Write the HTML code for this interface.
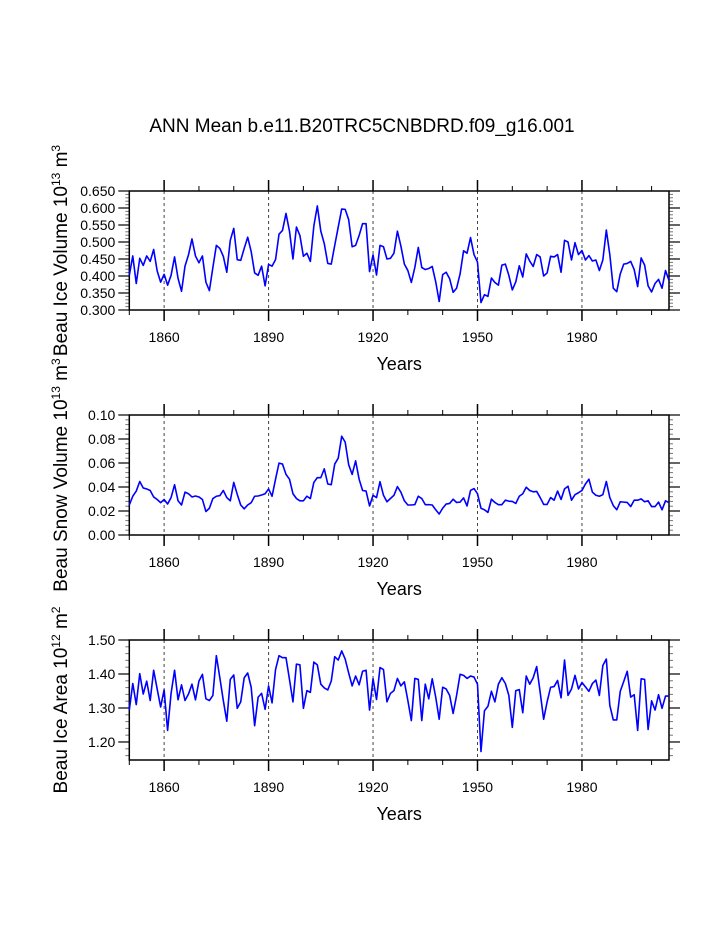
<!DOCTYPE html>
<html><head><meta charset="utf-8"><style>
html,body{margin:0;padding:0;background:#fff;}
svg{display:block;font-family:"Liberation Sans",Arial,sans-serif;}
</style></head><body>
<svg id="chart" width="723" height="935" viewBox="0 0 723 935" xmlns="http://www.w3.org/2000/svg">
<text x="362" y="132" text-anchor="middle" font-size="19" fill="#000">ANN Mean b.e11.B20TRC5CNBDRD.f09_g16.001</text>
</svg>
<script>
const years = []; for (let y = 1850; y <= 2005; y++) years.push(y);
const xTickLabels = ["1860","1890","1920","1950","1980"];
const xTickYears = [1860,1890,1920,1950,1980];
const iceVolume = [0.402,0.459,0.378,0.452,0.431,0.459,0.443,0.478,0.415,0.382,0.405,0.373,0.402,0.456,0.393,0.355,0.429,0.462,0.509,0.459,0.439,0.459,0.382,0.357,0.425,0.490,0.481,0.458,0.411,0.505,0.540,0.448,0.446,0.481,0.514,0.472,0.409,0.402,0.429,0.371,0.434,0.429,0.448,0.523,0.534,0.584,0.532,0.450,0.544,0.519,0.458,0.467,0.443,0.547,0.606,0.532,0.495,0.437,0.435,0.490,0.544,0.597,0.596,0.566,0.486,0.490,0.519,0.554,0.554,0.413,0.462,0.403,0.490,0.486,0.450,0.452,0.467,0.532,0.488,
0.435,
0.416,0.381,0.425,0.484,0.425,0.419,0.422,0.428,0.383,0.325,0.404,0.411,0.392,0.352,0.364,0.406,0.474,0.467,0.513,0.463,0.441,0.322,0.345,0.340,0.394,0.381,0.373,0.432,0.435,0.402,0.359,0.383,0.430,0.397,0.465,0.444,0.428,0.463,0.456,0.400,0.409,0.458,0.456,0.463,0.411,0.505,0.500,0.447,0.498,0.463,0.475,0.447,0.460,0.444,0.447,0.416,0.447,0.535,0.463,0.364,0.354,0.406,0.435,0.437,0.443,0.419,0.369,0.453,0.432,0.371,0.353,0.378,0.390,0.364,0.416,0.387];
const snowVolume = [0.0250,0.0323,0.0366,0.0446,0.0392,0.0384,0.0371,0.0317,0.0296,0.0269,0.0296,0.0258,0.0312,0.0419,0.0285,0.0250,0.0357,0.0344,0.0317,0.0325,0.0317,0.0296,0.0196,0.0223,0.0304,0.0323,0.0328,0.0371,0.0312,0.0285,0.0438,0.0339,0.0250,0.0218,0.0250,0.0269,0.0323,0.0325,0.0333,0.0344,0.0384,0.0323,0.0465,0.0599,0.0591,0.0505,0.0465,0.0344,0.0304,0.0285,0.0285,0.0323,0.0304,0.0438,0.0478,0.0478,0.0551,0.0425,0.0419,0.0591,0.0640,0.0823,0.0774,0.0586,0.0505,0.0618,0.0465,0.0371,0.0366,0.0242,0.0331,0.0312,0.0444,0.0331,0.0277,0.0304,0.0331,0.0403,0.0357,
0.0285,0.0250,0.0250,0.0253,0.0323,0.0304,0.0253,0.0253,0.0250,0.0210,0.0175,0.0223,0.0258,0.0263,0.0298,0.0271,0.0274,0.0309,0.0242,0.0371,0.0387,0.0344,0.0223,0.0210,0.0188,0.0298,0.0271,0.0253,0.0253,0.0290,0.0282,0.0280,0.0263,0.0323,0.0344,0.0398,0.0371,0.0360,0.0363,0.0312,0.0255,0.0255,0.0312,0.0290,0.0366,0.0296,0.0384,0.0406,0.0290,0.0336,0.0352,0.0371,0.0425,0.0465,0.0357,0.0331,0.0323,0.0336,0.0446,0.0312,0.0245,0.0210,0.0277,0.0274,0.0271,0.0237,0.0290,0.0290,0.0301,0.0277,0.0285,0.0237,0.0237,0.0274,0.0210,0.0285,0.0269];
const iceArea = [1.294,1.372,1.310,1.401,1.341,1.379,1.322,1.411,1.356,1.303,1.353,1.234,1.343,1.411,1.324,1.368,1.322,1.341,1.370,1.324,1.379,1.399,1.327,1.322,1.337,1.454,1.389,1.322,1.261,1.384,1.397,1.299,1.318,1.389,1.403,1.361,1.248,1.332,1.343,1.296,1.365,1.315,1.413,1.454,1.448,1.448,1.384,1.318,1.429,1.427,1.299,1.351,1.346,1.435,1.427,1.370,1.359,1.353,1.379,1.451,1.441,1.468,1.444,1.403,1.365,1.394,1.368,1.408,1.411,1.294,1.386,1.325,1.419,1.413,1.318,1.343,1.351,1.387,1.365,
1.377,1.322,1.263,1.387,1.384,1.263,1.370,1.327,1.386,1.332,1.267,1.361,1.356,1.337,1.284,1.337,1.399,1.396,1.387,1.394,1.391,1.370,1.172,1.292,1.305,1.349,1.318,1.370,1.389,1.372,1.337,1.243,1.351,1.354,1.286,1.394,1.370,1.389,1.422,1.346,1.267,1.318,1.361,1.363,1.381,1.330,1.441,1.337,1.356,1.396,1.356,1.375,1.362,1.349,1.372,1.382,1.337,1.425,1.444,1.308,1.265,1.265,1.349,1.378,1.408,1.332,1.339,1.234,1.386,1.384,1.237,1.321,1.294,1.339,1.299,1.335,1.335];
const volTickLabels = ["0.300","0.350","0.400","0.450","0.500","0.550","0.600","0.650"];
const snowTickLabels = ["0.00","0.02","0.04","0.06","0.08","0.10"];
const areaTickLabels = ["1.20","1.30","1.40","1.50"];

const NS = "http://www.w3.org/2000/svg";
const svg = document.getElementById('chart');
const X0 = 129.3, X1 = 669, YMIN = 1850, YMAX = 2005;
function xScale(yr){ return X0 + (yr - YMIN) * (X1 - X0) / (YMAX - YMIN); }
function mk(tag, attrs, parent){ const e = document.createElementNS(NS, tag); for (const k in attrs) e.setAttribute(k, attrs[k]); (parent||svg).appendChild(e); return e; }

function panel(cfg){
  const g = mk('g', {});
  
  
  const top = cfg.top, bot = cfg.bot;
  const yScale = v => bot - (v - cfg.vmin) * (bot - top) / (cfg.vmax - cfg.vmin);
  xTickYears.forEach(yr => {
    const l = mk('line', {x1: xScale(yr), x2: xScale(yr), y1: top, y2: bot, stroke: '#444', 'stroke-width': 1, 'stroke-dasharray': '3,3'}, g);
    
    
  });
  for (let yr = 1860; yr <= 2000; yr += 10) {
    const major = (yr - 1860) % 30 === 0;
    const len = major ? 11 : 5;
    const x = xScale(yr);
    mk('line', {x1: x, x2: x, y1: top, y2: top - len, stroke: '#000', 'stroke-width': major ? 1.5 : 1}, g);
    mk('line', {x1: x, x2: x, y1: bot, y2: bot + len, stroke: '#000', 'stroke-width': major ? 1.5 : 1}, g);
  }
  mk('line', {x1: X0, x2: X0, y1: bot, y2: bot + 5, stroke: '#000'}, g);
  xTickYears.forEach((yr, i) => {
    const t = mk('text', {x: xScale(yr), y: bot + 32, 'text-anchor': 'middle', 'font-size': 14}, g);
    t.textContent = xTickLabels[i];
    
    
  });
  const nMinor = Math.round((cfg.vmax - cfg.minorStart) / cfg.minorStep);
  for (let i = 0; i <= nMinor; i++) {
    const v = cfg.minorStart + i * cfg.minorStep;
    const y = yScale(v);
    mk('line', {x1: X0, x2: X0 - 4, y1: y, y2: y, stroke: '#777'}, g);
    mk('line', {x1: X1, x2: X1 + 4, y1: y, y2: y, stroke: '#777'}, g);
  }
  cfg.labels.forEach(lab => {
    const y = yScale(parseFloat(lab));
    mk('line', {x1: X0, x2: X0 - 11, y1: y, y2: y, stroke: '#000', 'stroke-width': 1.2}, g);
    mk('line', {x1: X1, x2: X1 + 11, y1: y, y2: y, stroke: '#000', 'stroke-width': 1.2}, g);
    const t = mk('text', {x: X0 - 14, y: y + 5, 'text-anchor': 'end', 'font-size': 14}, g);
    t.textContent = lab;
    
    
  });
  const fr = mk('rect', {x: X0, y: top, width: X1 - X0, height: bot - top, fill: 'none', stroke: '#000', 'stroke-width': 1.5}, g);
  
  
  const pts = cfg.data.map((v, i) => xScale(years[i]).toFixed(2) + ',' + yScale(v).toFixed(2)).join(' ');
  const pl = mk('polyline', {points: pts, fill: 'none', stroke: '#0000ff', 'stroke-width': 1.6, 'stroke-linejoin': 'round'}, g);
  
  
  const xt = mk('text', {x: (X0 + X1) / 2, y: bot + 60, 'text-anchor': 'middle', 'font-size': 18}, g);
  xt.textContent = 'Years';
  
  
  const cy = (top + bot) / 2;
  const yt = mk('text', {x: 0, y: 0, 'text-anchor': 'middle', 'font-size': 19, transform: 'translate(67,' + cy + ') rotate(-90)'}, g);
  
  
  yt.innerHTML = cfg.ytitle + ' 10<tspan dy="-7" font-size="12">' + cfg.exp + '</tspan><tspan dy="7"> m</tspan><tspan dy="-7" font-size="12">' + cfg.unit + '</tspan>';
}

panel({name: 'ice-volume', top: 191, bot: 310, vmin: 0.300, vmax: 0.650, labels: volTickLabels, minorStart: 0.300, minorStep: 0.01, data: iceVolume, ytitle: 'Beau Ice Volume', exp: '13', unit: '3'});
panel({name: 'snow-volume', top: 415, bot: 535, vmin: 0.0, vmax: 0.10, labels: snowTickLabels, minorStart: 0.0, minorStep: 0.004, data: snowVolume, ytitle: 'Beau Snow Volume', exp: '13', unit: '3'});
panel({name: 'ice-area', top: 640, bot: 760, vmin: 1.147, vmax: 1.50, labels: areaTickLabels, minorStart: 1.16, minorStep: 0.02, data: iceArea, ytitle: 'Beau Ice Area', exp: '12', unit: '2'});
</script>
</body></html>
